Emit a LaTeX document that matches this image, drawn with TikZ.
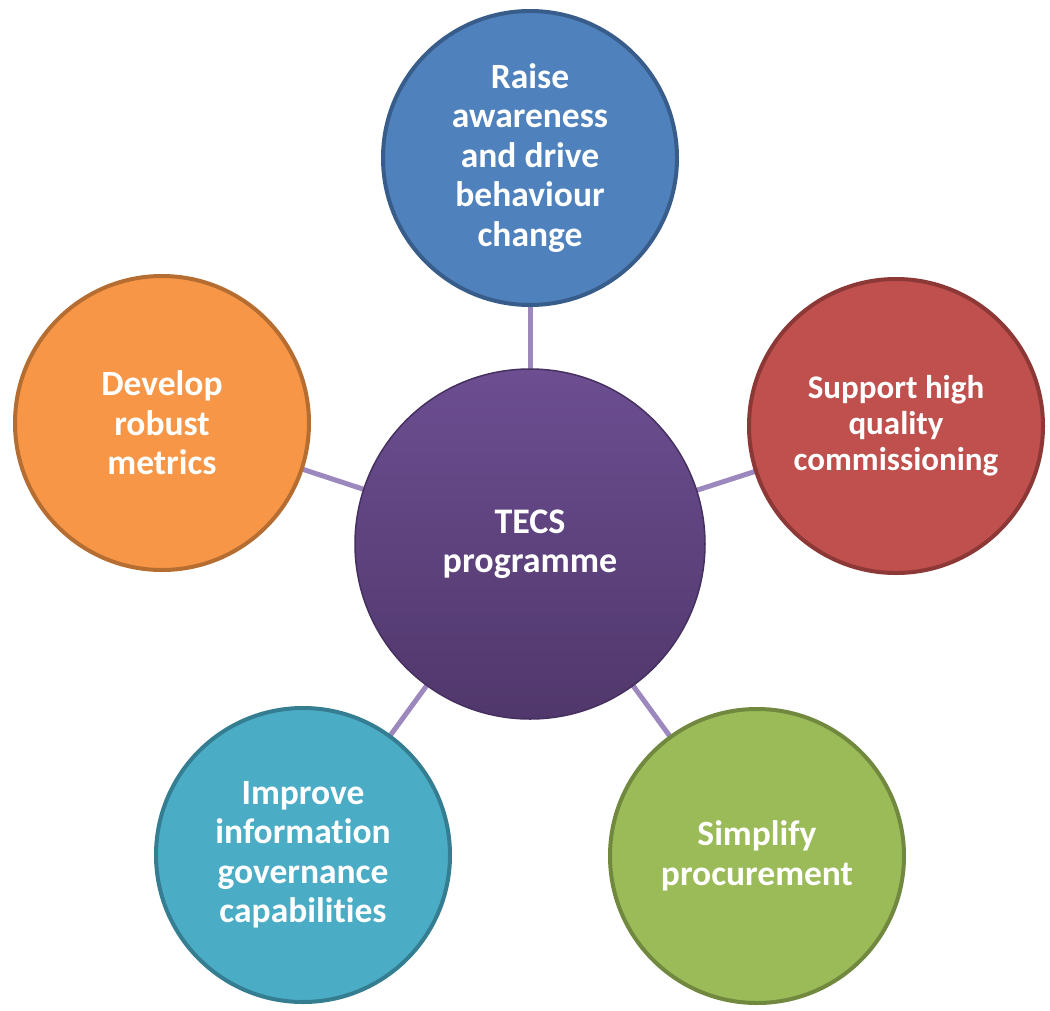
\documentclass[tikz,border=0pt]{standalone}
\usepackage{fontspec}
\setmainfont[RawFeature=-liga]{Carlito}
\usetikzlibrary{backgrounds}
\definecolor{linkc}{HTML}{9C88BD}
\definecolor{bluef}{HTML}{4F81BD}\definecolor{blued}{HTML}{385D8A}
\definecolor{redf}{HTML}{C0504D}\definecolor{redd}{HTML}{8C3836}
\definecolor{orf}{HTML}{F79646}\definecolor{ord}{HTML}{B66D31}
\definecolor{tlf}{HTML}{4BACC6}\definecolor{tld}{HTML}{357D91}
\definecolor{grf}{HTML}{9BBB59}\definecolor{grd}{HTML}{71893F}
\definecolor{puT}{HTML}{6C4E91}\definecolor{puB}{HTML}{50376B}\definecolor{puD}{HTML}{46305F}
\tikzset{
  outer/.style={circle, draw=#1d, fill=#1f, line width=4pt, minimum size=294pt, inner sep=0pt,
     text=white, align=center, font=\fontsize{35.5}{39.5}\selectfont\bfseries},
  hub/.style={circle, draw=puD, line width=1.5pt, top color=puT, bottom color=puB, minimum size=350pt,
     inner sep=0pt, text=white, align=center, font=\fontsize{36}{39}\selectfont\bfseries},
  smalltext/.style={font=\fontsize{33}{36}\selectfont\bfseries},
  link/.style={draw=linkc, line width=5pt}
}
\begin{document}
\begin{tikzpicture}[x=1pt,y=-1pt]
\useasboundingbox (0,0) rectangle (1050,1010);
\node[hub] (c) at (530,544) {TECS\\programme};
\node[outer=blue] (t) at (530,158) {Raise\\awareness\\and drive\\behaviour\\change};
\node[outer=red, smalltext] (r) at (896,426) {Support high\\quality\\commissioning};
\node[outer=or] (l) at (162,423) {Develop\\robust\\metrics};
\node[outer=tl] (bl) at (303,855) {Improve\\information\\governance\\capabilities};
\node[outer=gr] (br) at (757,856) {Simplify\\procurement};
\begin{scope}[on background layer]
\foreach \n in {t,r,l,bl,br} \draw[link] (c.center) -- (\n.center);
\end{scope}
\end{tikzpicture}
\end{document}
